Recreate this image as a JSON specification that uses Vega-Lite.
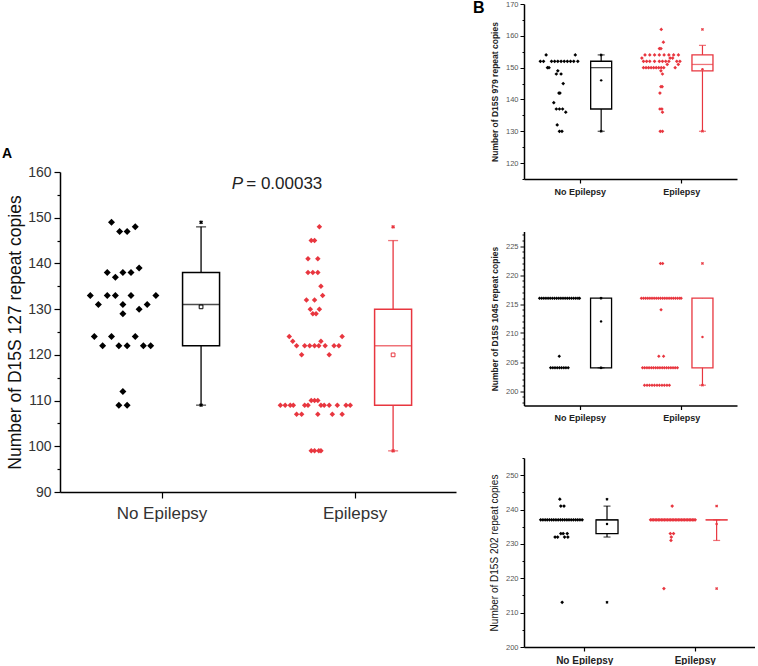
{
"$schema": "https://vega.github.io/schema/vega-lite/v6.json",
"padding": {"left": 2, "top": 0, "right": 0, "bottom": 0},
"background": "white",
"config": {"view": {"stroke": null}, "font": "Liberation Sans", "axis": {"grid": false, "domainColor": "#000", "tickColor": "#000", "labelFont": "Liberation Sans", "titleFont": "Liberation Sans", "labelOverlap": false}},
"datasets": {
"dA": [
{"g":"N","x":0.741,"v":149},{"g":"N","x":0.783,"v":147},{"g":"N","x":0.822,"v":147},{"g":"N","x":0.864,"v":148},
{"g":"N","x":0.719,"v":138},{"g":"N","x":0.800,"v":138},{"g":"N","x":0.842,"v":138},{"g":"N","x":0.761,"v":137},{"g":"N","x":0.884,"v":139},
{"g":"N","x":0.631,"v":133},{"g":"N","x":0.719,"v":133},{"g":"N","x":0.761,"v":133},{"g":"N","x":0.842,"v":133},{"g":"N","x":0.971,"v":133},
{"g":"N","x":0.673,"v":131},{"g":"N","x":0.800,"v":131},{"g":"N","x":0.926,"v":131},
{"g":"N","x":0.800,"v":129},{"g":"N","x":0.884,"v":130},
{"g":"N","x":0.652,"v":124},{"g":"N","x":0.741,"v":124},{"g":"N","x":0.864,"v":124},
{"g":"N","x":0.695,"v":122},{"g":"N","x":0.779,"v":122},{"g":"N","x":0.822,"v":122},{"g":"N","x":0.906,"v":122},{"g":"N","x":0.944,"v":122},
{"g":"N","x":0.800,"v":112},{"g":"N","x":0.779,"v":109},{"g":"N","x":0.822,"v":109},
{"g":"E","x":1.818,"v":148},{"g":"E","x":1.776,"v":145},{"g":"E","x":1.793,"v":145},{"g":"E","x":1.759,"v":141},{"g":"E","x":1.810,"v":141},
{"g":"E","x":1.759,"v":138},{"g":"E","x":1.784,"v":138},{"g":"E","x":1.810,"v":138},{"g":"E","x":1.826,"v":135},
{"g":"E","x":1.751,"v":132},{"g":"E","x":1.793,"v":132},{"g":"E","x":1.835,"v":133},
{"g":"E","x":1.771,"v":130},{"g":"E","x":1.818,"v":130},{"g":"E","x":1.784,"v":129},{"g":"E","x":1.801,"v":129},
{"g":"E","x":1.662,"v":124},{"g":"E","x":1.936,"v":124},{"g":"E","x":1.680,"v":123},{"g":"E","x":1.826,"v":123},
{"g":"E","x":1.700,"v":122},{"g":"E","x":1.742,"v":122},{"g":"E","x":1.768,"v":122},{"g":"E","x":1.793,"v":122},{"g":"E","x":1.815,"v":122},{"g":"E","x":1.848,"v":122},{"g":"E","x":1.894,"v":122},{"g":"E","x":1.919,"v":122},
{"g":"E","x":1.726,"v":120},{"g":"E","x":1.869,"v":120},
{"g":"E","x":1.616,"v":109},{"g":"E","x":1.641,"v":109},{"g":"E","x":1.667,"v":109},{"g":"E","x":1.683,"v":109},{"g":"E","x":1.742,"v":109},{"g":"E","x":1.759,"v":109},{"g":"E","x":1.826,"v":109},{"g":"E","x":1.843,"v":109},{"g":"E","x":1.869,"v":109},{"g":"E","x":1.911,"v":109},{"g":"E","x":1.956,"v":109},{"g":"E","x":1.978,"v":109},
{"g":"E","x":1.776,"v":110},{"g":"E","x":1.793,"v":110},{"g":"E","x":1.810,"v":110},
{"g":"E","x":1.700,"v":107},{"g":"E","x":1.726,"v":107},{"g":"E","x":1.810,"v":107},{"g":"E","x":1.885,"v":107},{"g":"E","x":1.936,"v":107},
{"g":"E","x":1.776,"v":99},{"g":"E","x":1.793,"v":99},{"g":"E","x":1.815,"v":99},{"g":"E","x":1.826,"v":99}
],
"bA": [
{"g":"N","x":1.205,"q1":122,"q3":138,"med":131,"mean":130.5,"lo":109,"hi":148,"mn":109,"mx":149},
{"g":"E","x":2.2,"q1":109,"q3":130,"med":122,"mean":120,"lo":99,"hi":145,"mn":99,"mx":148}
],
"dB1": [
{"g":"N","x":0.669,"v":154},{"g":"N","x":0.956,"v":154},{"g":"N","x":0.612,"v":152},{"g":"N","x":0.643,"v":152},{"g":"N","x":0.722,"v":152},{"g":"N","x":0.753,"v":152},{"g":"N","x":0.784,"v":152},{"g":"N","x":0.816,"v":152},{"g":"N","x":0.847,"v":152},{"g":"N","x":0.878,"v":152},{"g":"N","x":0.909,"v":152},{"g":"N","x":0.941,"v":152},{"g":"N","x":0.981,"v":152},
{"g":"N","x":0.682,"v":150},{"g":"N","x":0.697,"v":150},{"g":"N","x":0.784,"v":149},{"g":"N","x":0.769,"v":148},{"g":"N","x":0.816,"v":148},{"g":"N","x":0.837,"v":145},{"g":"N","x":0.795,"v":142},{"g":"N","x":0.805,"v":142},{"g":"N","x":0.744,"v":139},{"g":"N","x":0.769,"v":137},{"g":"N","x":0.800,"v":137},{"g":"N","x":0.831,"v":137},{"g":"N","x":0.862,"v":136},{"g":"N","x":0.778,"v":132},{"g":"N","x":0.800,"v":130},{"g":"N","x":0.825,"v":130},
{"g":"E","x":1.803,"v":162},{"g":"E","x":1.824,"v":158},{"g":"E","x":1.785,"v":156},{"g":"E","x":1.800,"v":156},
{"g":"E","x":1.643,"v":154},{"g":"E","x":1.690,"v":154},{"g":"E","x":1.737,"v":154},{"g":"E","x":1.784,"v":154},{"g":"E","x":1.831,"v":154},{"g":"E","x":1.878,"v":154},{"g":"E","x":1.925,"v":154},{"g":"E","x":1.972,"v":154},
{"g":"E","x":1.612,"v":153},{"g":"E","x":1.890,"v":153},{"g":"E","x":1.915,"v":153},
{"g":"E","x":1.628,"v":152},{"g":"E","x":1.659,"v":152},{"g":"E","x":1.690,"v":152},{"g":"E","x":1.737,"v":152},{"g":"E","x":1.784,"v":152},{"g":"E","x":1.815,"v":152},{"g":"E","x":1.847,"v":152},{"g":"E","x":1.878,"v":152},{"g":"E","x":1.956,"v":152},{"g":"E","x":1.987,"v":152},
{"g":"E","x":1.862,"v":151},{"g":"E","x":1.971,"v":151},
{"g":"E","x":1.628,"v":150},{"g":"E","x":1.653,"v":150},{"g":"E","x":1.678,"v":150},{"g":"E","x":1.703,"v":150},{"g":"E","x":1.728,"v":150},{"g":"E","x":1.753,"v":150},{"g":"E","x":1.778,"v":150},{"g":"E","x":1.803,"v":150},{"g":"E","x":1.828,"v":150},{"g":"E","x":1.940,"v":150},
{"g":"E","x":1.800,"v":149},{"g":"E","x":1.815,"v":148},{"g":"E","x":1.800,"v":144},{"g":"E","x":1.812,"v":144},{"g":"E","x":1.790,"v":142},{"g":"E","x":1.790,"v":137},{"g":"E","x":1.809,"v":137},{"g":"E","x":1.815,"v":136},{"g":"E","x":1.793,"v":130},{"g":"E","x":1.815,"v":130}
],
"bB1": [
{"g":"N","x":1.211,"q1":137,"q3":152,"med":150,"mean":146,"lo":130,"hi":154,"mn":130,"mx":154},
{"g":"E","x":2.209,"q1":149,"q3":154,"med":151,"mean":149.5,"lo":130,"hi":157,"mn":130,"mx":162}
],
"dB2": [
{"g":"N","x":0.604,"v":216},{"g":"N","x":0.625,"v":216},{"g":"N","x":0.646,"v":216},{"g":"N","x":0.667,"v":216},{"g":"N","x":0.688,"v":216},{"g":"N","x":0.709,"v":216},{"g":"N","x":0.730,"v":216},{"g":"N","x":0.751,"v":216},{"g":"N","x":0.772,"v":216},{"g":"N","x":0.793,"v":216},{"g":"N","x":0.814,"v":216},{"g":"N","x":0.835,"v":216},{"g":"N","x":0.856,"v":216},{"g":"N","x":0.877,"v":216},{"g":"N","x":0.898,"v":216},{"g":"N","x":0.919,"v":216},{"g":"N","x":0.940,"v":216},{"g":"N","x":0.961,"v":216},{"g":"N","x":0.982,"v":216},{"g":"N","x":0.998,"v":216},
{"g":"N","x":0.798,"v":206},
{"g":"N","x":0.713,"v":204},{"g":"N","x":0.735,"v":204},{"g":"N","x":0.756,"v":204},{"g":"N","x":0.778,"v":204},{"g":"N","x":0.800,"v":204},{"g":"N","x":0.821,"v":204},{"g":"N","x":0.843,"v":204},{"g":"N","x":0.864,"v":204},{"g":"N","x":0.886,"v":204},
{"g":"E","x":1.795,"v":222},{"g":"E","x":1.817,"v":222},
{"g":"E","x":1.607,"v":216},{"g":"E","x":1.628,"v":216},{"g":"E","x":1.649,"v":216},{"g":"E","x":1.670,"v":216},{"g":"E","x":1.691,"v":216},{"g":"E","x":1.712,"v":216},{"g":"E","x":1.733,"v":216},{"g":"E","x":1.754,"v":216},{"g":"E","x":1.775,"v":216},{"g":"E","x":1.796,"v":216},{"g":"E","x":1.817,"v":216},{"g":"E","x":1.838,"v":216},{"g":"E","x":1.859,"v":216},{"g":"E","x":1.880,"v":216},{"g":"E","x":1.901,"v":216},{"g":"E","x":1.922,"v":216},{"g":"E","x":1.943,"v":216},{"g":"E","x":1.964,"v":216},{"g":"E","x":1.985,"v":216},{"g":"E","x":1.999,"v":216},
{"g":"E","x":1.801,"v":214},{"g":"E","x":1.779,"v":206},{"g":"E","x":1.826,"v":206},
{"g":"E","x":1.619,"v":204},{"g":"E","x":1.640,"v":204},{"g":"E","x":1.662,"v":204},{"g":"E","x":1.683,"v":204},{"g":"E","x":1.705,"v":204},{"g":"E","x":1.726,"v":204},{"g":"E","x":1.748,"v":204},{"g":"E","x":1.769,"v":204},{"g":"E","x":1.790,"v":204},{"g":"E","x":1.812,"v":204},{"g":"E","x":1.833,"v":204},{"g":"E","x":1.855,"v":204},{"g":"E","x":1.876,"v":204},{"g":"E","x":1.898,"v":204},{"g":"E","x":1.919,"v":204},{"g":"E","x":1.940,"v":204},{"g":"E","x":1.962,"v":204},
{"g":"E","x":1.638,"v":201},{"g":"E","x":1.663,"v":201},{"g":"E","x":1.687,"v":201},{"g":"E","x":1.712,"v":201},{"g":"E","x":1.736,"v":201},{"g":"E","x":1.761,"v":201},{"g":"E","x":1.785,"v":201},{"g":"E","x":1.810,"v":201},{"g":"E","x":1.834,"v":201},{"g":"E","x":1.859,"v":201},{"g":"E","x":1.883,"v":201}
],
"bB2": [
{"g":"N","x":1.210,"q1":204,"q3":216,"med":216,"mean":212,"lo":204,"hi":216,"mn":204,"mx":216},
{"g":"E","x":2.209,"q1":204,"q3":216,"med":216,"mean":209.3,"lo":201,"hi":216,"mn":201,"mx":222}
],
"dB3": [
{"g":"N","x":0.779,"v":243},{"g":"N","x":0.788,"v":241},{"g":"N","x":0.817,"v":241},
{"g":"N","x":0.606,"v":237},{"g":"N","x":0.626,"v":237},{"g":"N","x":0.646,"v":237},{"g":"N","x":0.665,"v":237},{"g":"N","x":0.685,"v":237},{"g":"N","x":0.705,"v":237},{"g":"N","x":0.724,"v":237},{"g":"N","x":0.744,"v":237},{"g":"N","x":0.764,"v":237},{"g":"N","x":0.784,"v":237},{"g":"N","x":0.803,"v":237},{"g":"N","x":0.823,"v":237},{"g":"N","x":0.843,"v":237},{"g":"N","x":0.862,"v":237},{"g":"N","x":0.882,"v":237},{"g":"N","x":0.902,"v":237},{"g":"N","x":0.922,"v":237},{"g":"N","x":0.941,"v":237},{"g":"N","x":0.961,"v":237},{"g":"N","x":0.981,"v":237},
{"g":"N","x":0.788,"v":233},{"g":"N","x":0.809,"v":233},{"g":"N","x":0.846,"v":233},
{"g":"N","x":0.736,"v":232},{"g":"N","x":0.759,"v":232},{"g":"N","x":0.822,"v":232},{"g":"N","x":0.852,"v":232},
{"g":"N","x":0.800,"v":213},
{"g":"E","x":1.796,"v":241},
{"g":"E","x":1.600,"v":237},{"g":"E","x":1.614,"v":237},{"g":"E","x":1.628,"v":237},{"g":"E","x":1.642,"v":237},{"g":"E","x":1.656,"v":237},{"g":"E","x":1.670,"v":237},{"g":"E","x":1.684,"v":237},{"g":"E","x":1.698,"v":237},{"g":"E","x":1.712,"v":237},{"g":"E","x":1.726,"v":237},{"g":"E","x":1.740,"v":237},{"g":"E","x":1.754,"v":237},{"g":"E","x":1.768,"v":237},{"g":"E","x":1.782,"v":237},{"g":"E","x":1.796,"v":237},{"g":"E","x":1.810,"v":237},{"g":"E","x":1.824,"v":237},{"g":"E","x":1.838,"v":237},{"g":"E","x":1.852,"v":237},{"g":"E","x":1.866,"v":237},{"g":"E","x":1.880,"v":237},{"g":"E","x":1.894,"v":237},{"g":"E","x":1.908,"v":237},{"g":"E","x":1.922,"v":237},{"g":"E","x":1.936,"v":237},{"g":"E","x":1.950,"v":237},{"g":"E","x":1.964,"v":237},{"g":"E","x":1.978,"v":237},{"g":"E","x":1.992,"v":237},{"g":"E","x":2.004,"v":237},
{"g":"E","x":1.779,"v":233},{"g":"E","x":1.808,"v":233},{"g":"E","x":1.788,"v":232},{"g":"E","x":1.785,"v":231},{"g":"E","x":1.721,"v":217}
],
"bB3": [
{"g":"N","x":1.206,"q1":233,"q3":237,"med":237,"mean":235.8,"lo":232,"hi":241,"mn":213,"mx":243},
{"g":"E","x":2.198,"q1":237,"q3":237,"med":237,"mean":235.8,"lo":231,"hi":237,"mn":217,"mx":241}
]
},
"spacing": 17,
"resolve": {"scale": {"x": "independent", "y": "independent"}},
"hconcat": [
{
"bounds": "flush",
"spacing": 18,
"resolve": {"scale": {"x": "independent", "y": "independent"}},
"vconcat": [
{"width": 10, "height": 150, "data": {"values": []}, "mark": "point"},
{
"width": 396, "height": 320,
"title": {"text": "A", "anchor": "start", "frame": "group", "dx": -58, "offset": 4, "fontSize": 14, "fontWeight": "bold", "font": "Liberation Sans", "color": "#000"},
"layer": [
{
"encoding": {"x": {"field": "x", "type": "quantitative", "scale": {"domain": [0.5, 2.5], "nice": false, "zero": false}, "axis": {"values": [1, 2], "tickCount": 100, "labelExpr": "datum.value == 1 ? 'No Epilepsy' : 'Epilepsy'", "title": null, "labelFontSize": 17, "labelColor": "#333", "tickSize": 6, "labelPadding": 7, "domainWidth": 1.5, "tickWidth": 1.2, "labelOverlap": false}}},
"layer": [
{"data": {"name": "dA"}, "mark": {"type": "point", "shape": "diamond", "filled": true, "opacity": 1},
 "encoding": {"y": {"field": "v", "type": "quantitative", "scale": {"domain": [90, 160], "nice": false, "zero": false},
   "axis": {"values": [90,95,100,105,110,115,120,125,130,135,140,145,150,155,160], "tickCount": 100, "format": "d", "labelExpr": "datum.value % 10 === 0 ? datum.label : ''", "labelOverlap": false, "title": "Number of D15S 127 repeat copies", "titleFontSize": 17.5, "titleFontWeight": "normal", "titleColor": "#111", "labelFontSize": 14, "labelColor": "#333", "tickSize": {"condition": {"test": "datum.value % 10 === 0", "value": 6}, "value": 3}, "labelPadding": 3, "titlePadding": 3, "domainWidth": 1.5, "tickWidth": 1.2}},
  "color": {"field": "g", "type": "nominal", "scale": {"domain": ["N", "E"], "range": ["#000000", "#e8363f"]}, "legend": null},
  "size": {"field": "g", "type": "nominal", "scale": {"domain": ["N", "E"], "range": [49, 30]}, "legend": null}}},
{"data": {"name": "bA"}, "mark": {"type": "rule", "strokeWidth": 1.3},
 "encoding": {"y": {"field": "lo", "type": "quantitative", "scale": {"domain": [90, 160], "nice": false, "zero": false}}, "y2": {"field": "hi"}, "color": {"field": "g", "type": "nominal", "scale": {"domain": ["N", "E"], "range": ["#000000", "#e8363f"]}, "legend": null}}},
{"data": {"name": "bA"}, "mark": {"type": "bar", "size": 37, "fill": "white", "strokeWidth": 1.5},
 "encoding": {"y": {"field": "q1", "type": "quantitative", "scale": {"domain": [90, 160], "nice": false, "zero": false}}, "y2": {"field": "q3"}, "stroke": {"field": "g", "type": "nominal", "scale": {"domain": ["N", "E"], "range": ["#000000", "#e8363f"]}, "legend": null}}},
{"data": {"name": "bA"}, "mark": {"type": "tick", "orient": "horizontal", "size": 37, "thickness": 1.5},
 "encoding": {"y": {"field": "med", "type": "quantitative", "scale": {"domain": [90, 160], "nice": false, "zero": false}}, "color": {"field": "g", "type": "nominal", "scale": {"domain": ["N", "E"], "range": ["#000000", "#e8363f"]}, "legend": null}}},
{"data": {"name": "bA"}, "mark": {"type": "tick", "orient": "horizontal", "size": 10, "thickness": 1.3},
 "encoding": {"y": {"field": "lo", "type": "quantitative", "scale": {"domain": [90, 160], "nice": false, "zero": false}}, "color": {"field": "g", "type": "nominal", "scale": {"domain": ["N", "E"], "range": ["#000000", "#e8363f"]}, "legend": null}}},
{"data": {"name": "bA"}, "mark": {"type": "tick", "orient": "horizontal", "size": 10, "thickness": 1.3},
 "encoding": {"y": {"field": "hi", "type": "quantitative", "scale": {"domain": [90, 160], "nice": false, "zero": false}}, "color": {"field": "g", "type": "nominal", "scale": {"domain": ["N", "E"], "range": ["#000000", "#e8363f"]}, "legend": null}}},
{"data": {"name": "bA"}, "mark": {"type": "point", "shape": "square", "size": 14, "filled": false, "strokeWidth": 1, "opacity": 1},
 "encoding": {"y": {"field": "mean", "type": "quantitative", "scale": {"domain": [90, 160], "nice": false, "zero": false}}, "color": {"field": "g", "type": "nominal", "scale": {"domain": ["N", "E"], "range": ["#000000", "#e8363f"]}, "legend": null}}},
{"data": {"name": "bA"}, "mark": {"type": "point", "shape": "cross", "angle": 45, "size": 16, "filled": true, "opacity": 1},
 "encoding": {"y": {"field": "mn", "type": "quantitative", "scale": {"domain": [90, 160], "nice": false, "zero": false}}, "color": {"field": "g", "type": "nominal", "scale": {"domain": ["N", "E"], "range": ["#000000", "#e8363f"]}, "legend": null}}},
{"data": {"name": "bA"}, "mark": {"type": "point", "shape": "cross", "angle": 45, "size": 16, "filled": true, "opacity": 1},
 "encoding": {"y": {"field": "mx", "type": "quantitative", "scale": {"domain": [90, 160], "nice": false, "zero": false}}, "color": {"field": "g", "type": "nominal", "scale": {"domain": ["N", "E"], "range": ["#000000", "#e8363f"]}, "legend": null}}}
]
},
{"data": {"values": [{"t": "P"}]}, "mark": {"type": "text", "fontStyle": "italic", "fontSize": 17, "align": "left", "baseline": "alphabetic", "font": "Liberation Sans", "color": "#222"},
 "encoding": {"text": {"field": "t"}, "x": {"datum": 1.364, "type": "quantitative", "scale": {"domain": [0.5, 2.5], "nice": false, "zero": false}}, "y": {"datum": 156.3, "type": "quantitative", "scale": {"domain": [90, 160], "nice": false, "zero": false}}}},
{"data": {"values": [{"t": "= 0.00033"}]}, "mark": {"type": "text", "fontSize": 17, "align": "left", "baseline": "alphabetic", "font": "Liberation Sans", "color": "#222"},
 "encoding": {"text": {"field": "t"}, "x": {"datum": 1.439, "type": "quantitative", "scale": {"domain": [0.5, 2.5], "nice": false, "zero": false}}, "y": {"datum": 156.3, "type": "quantitative", "scale": {"domain": [90, 160], "nice": false, "zero": false}}}}
]
}
]
},
{
"bounds": "flush",
"spacing": 52.5,
"resolve": {"scale": {"x": "independent", "y": "independent"}},
"vconcat": [
{
"width": 213, "height": 175,
"title": {"text": "B", "anchor": "start", "frame": "group", "dx": -51, "dy": 16, "offset": 0, "fontSize": 16, "fontWeight": "bold", "font": "Liberation Sans", "color": "#000"},
"encoding": {"x": {"field": "x", "type": "quantitative", "scale": {"domain": [0.5, 2.5], "nice": false, "zero": false}, "axis": {"values": [1, 2], "tickCount": 100, "labelExpr": "datum.value == 1 ? 'No Epilepsy' : 'Epilepsy'", "title": null, "labelFontSize": 9, "labelFontWeight": "bold", "labelColor": "#222", "tickSize": 4, "labelPadding": 4, "domainWidth": 1.5, "tickWidth": 1.2, "labelOverlap": false}}},
"layer": [
{"data": {"name": "dB1"}, "mark": {"type": "point", "shape": "diamond", "filled": true, "opacity": 1, "size": 14},
 "encoding": {"y": {"field": "v", "type": "quantitative", "scale": {"domain": [115, 170], "nice": false, "zero": false},
   "axis": {"values": [115,120,125,130,135,140,145,150,155,160,165,170], "tickCount": 100, "format": "d", "labelExpr": "datum.value % 10 === 0 ? datum.label : ''", "labelOverlap": false, "title": "Number of D15S 979 repeat copies", "titleFontSize": 8.5, "titleFontWeight": "bold", "titleColor": "#222", "labelFontSize": 7.5, "labelColor": "#555", "tickSize": {"condition": {"test": "datum.value % 10 === 0", "value": 4}, "value": 2}, "labelPadding": 2, "titlePadding": 6, "domainWidth": 1.5, "tickWidth": 1}},
  "color": {"field": "g", "type": "nominal", "scale": {"domain": ["N", "E"], "range": ["#000000", "#e8363f"]}, "legend": null}}},
{"data": {"name": "bB1"}, "mark": {"type": "rule", "strokeWidth": 1.2},
 "encoding": {"y": {"field": "lo", "type": "quantitative", "scale": {"domain": [115, 170], "nice": false, "zero": false}}, "y2": {"field": "hi"}, "color": {"field": "g", "type": "nominal", "scale": {"domain": ["N", "E"], "range": ["#000000", "#e8363f"]}, "legend": null}}},
{"data": {"name": "bB1"}, "mark": {"type": "bar", "size": 21, "fill": "white", "strokeWidth": 1.3},
 "encoding": {"y": {"field": "q1", "type": "quantitative", "scale": {"domain": [115, 170], "nice": false, "zero": false}}, "y2": {"field": "q3"}, "stroke": {"field": "g", "type": "nominal", "scale": {"domain": ["N", "E"], "range": ["#000000", "#e8363f"]}, "legend": null}}},
{"data": {"name": "bB1"}, "mark": {"type": "tick", "orient": "horizontal", "size": 21, "thickness": 1.3},
 "encoding": {"y": {"field": "med", "type": "quantitative", "scale": {"domain": [115, 170], "nice": false, "zero": false}}, "color": {"field": "g", "type": "nominal", "scale": {"domain": ["N", "E"], "range": ["#000000", "#e8363f"]}, "legend": null}}},
{"data": {"name": "bB1"}, "mark": {"type": "tick", "orient": "horizontal", "size": 7, "thickness": 1.2},
 "encoding": {"y": {"field": "lo", "type": "quantitative", "scale": {"domain": [115, 170], "nice": false, "zero": false}}, "color": {"field": "g", "type": "nominal", "scale": {"domain": ["N", "E"], "range": ["#000000", "#e8363f"]}, "legend": null}}},
{"data": {"name": "bB1"}, "mark": {"type": "tick", "orient": "horizontal", "size": 7, "thickness": 1.2},
 "encoding": {"y": {"field": "hi", "type": "quantitative", "scale": {"domain": [115, 170], "nice": false, "zero": false}}, "color": {"field": "g", "type": "nominal", "scale": {"domain": ["N", "E"], "range": ["#000000", "#e8363f"]}, "legend": null}}},
{"data": {"name": "bB1"}, "mark": {"type": "point", "shape": "circle", "size": 6, "filled": true, "opacity": 1},
 "encoding": {"y": {"field": "mean", "type": "quantitative", "scale": {"domain": [115, 170], "nice": false, "zero": false}}, "color": {"field": "g", "type": "nominal", "scale": {"domain": ["N", "E"], "range": ["#000000", "#e8363f"]}, "legend": null}}},
{"data": {"name": "bB1"}, "mark": {"type": "point", "shape": "cross", "angle": 45, "size": 9, "filled": true, "opacity": 1},
 "encoding": {"y": {"field": "mn", "type": "quantitative", "scale": {"domain": [115, 170], "nice": false, "zero": false}}, "color": {"field": "g", "type": "nominal", "scale": {"domain": ["N", "E"], "range": ["#000000", "#e8363f"]}, "legend": null}}},
{"data": {"name": "bB1"}, "mark": {"type": "point", "shape": "cross", "angle": 45, "size": 9, "filled": true, "opacity": 1},
 "encoding": {"y": {"field": "mx", "type": "quantitative", "scale": {"domain": [115, 170], "nice": false, "zero": false}}, "color": {"field": "g", "type": "nominal", "scale": {"domain": ["N", "E"], "range": ["#000000", "#e8363f"]}, "legend": null}}}
]
},
{
"width": 213, "height": 174,
"encoding": {"x": {"field": "x", "type": "quantitative", "scale": {"domain": [0.5, 2.5], "nice": false, "zero": false}, "axis": {"values": [1, 2], "tickCount": 100, "labelExpr": "datum.value == 1 ? 'No Epilepsy' : 'Epilepsy'", "title": null, "labelFontSize": 9, "labelFontWeight": "bold", "labelColor": "#222", "tickSize": 4, "labelPadding": 4, "domainWidth": 1.5, "tickWidth": 1.2, "labelOverlap": false}}},
"layer": [
{"data": {"name": "dB2"}, "mark": {"type": "point", "shape": "diamond", "filled": true, "opacity": 1, "size": 12},
 "encoding": {"y": {"field": "v", "type": "quantitative", "scale": {"domain": [197.5, 227.5], "nice": false, "zero": false},
   "axis": {"values": [198,199,200,201,202,203,204,205,206,207,208,209,210,211,212,213,214,215,216,217,218,219,220,221,222,223,224,225,226,227], "tickCount": 100, "format": "d", "labelExpr": "datum.value % 5 === 0 ? datum.label : ''", "labelOverlap": false, "title": "Number of D15S 1045 repeat copies", "titleFontSize": 8.5, "titleFontWeight": "bold", "titleColor": "#222", "labelFontSize": 7.5, "labelColor": "#555", "tickSize": {"condition": {"test": "datum.value % 5 === 0", "value": 4}, "value": 2}, "labelPadding": 2, "titlePadding": 6, "domainWidth": 1.5, "tickWidth": 1}},
  "color": {"field": "g", "type": "nominal", "scale": {"domain": ["N", "E"], "range": ["#000000", "#e8363f"]}, "legend": null}}},
{"data": {"name": "bB2"}, "mark": {"type": "rule", "strokeWidth": 1.2},
 "encoding": {"y": {"field": "lo", "type": "quantitative", "scale": {"domain": [197.5, 227.5], "nice": false, "zero": false}}, "y2": {"field": "hi"}, "color": {"field": "g", "type": "nominal", "scale": {"domain": ["N", "E"], "range": ["#000000", "#e8363f"]}, "legend": null}}},
{"data": {"name": "bB2"}, "mark": {"type": "bar", "size": 21, "fill": "white", "strokeWidth": 1.3},
 "encoding": {"y": {"field": "q1", "type": "quantitative", "scale": {"domain": [197.5, 227.5], "nice": false, "zero": false}}, "y2": {"field": "q3"}, "stroke": {"field": "g", "type": "nominal", "scale": {"domain": ["N", "E"], "range": ["#000000", "#e8363f"]}, "legend": null}}},
{"data": {"name": "bB2"}, "mark": {"type": "tick", "orient": "horizontal", "size": 7, "thickness": 1.2},
 "encoding": {"y": {"field": "lo", "type": "quantitative", "scale": {"domain": [197.5, 227.5], "nice": false, "zero": false}}, "color": {"field": "g", "type": "nominal", "scale": {"domain": ["N", "E"], "range": ["#000000", "#e8363f"]}, "legend": null}}},
{"data": {"name": "bB2"}, "mark": {"type": "point", "shape": "circle", "size": 6, "filled": true, "opacity": 1},
 "encoding": {"y": {"field": "mean", "type": "quantitative", "scale": {"domain": [197.5, 227.5], "nice": false, "zero": false}}, "color": {"field": "g", "type": "nominal", "scale": {"domain": ["N", "E"], "range": ["#000000", "#e8363f"]}, "legend": null}}},
{"data": {"name": "bB2"}, "mark": {"type": "point", "shape": "cross", "angle": 45, "size": 9, "filled": true, "opacity": 1},
 "encoding": {"y": {"field": "mn", "type": "quantitative", "scale": {"domain": [197.5, 227.5], "nice": false, "zero": false}}, "color": {"field": "g", "type": "nominal", "scale": {"domain": ["N", "E"], "range": ["#000000", "#e8363f"]}, "legend": null}}},
{"data": {"name": "bB2"}, "mark": {"type": "point", "shape": "cross", "angle": 45, "size": 9, "filled": true, "opacity": 1},
 "encoding": {"y": {"field": "mx", "type": "quantitative", "scale": {"domain": [197.5, 227.5], "nice": false, "zero": false}}, "color": {"field": "g", "type": "nominal", "scale": {"domain": ["N", "E"], "range": ["#000000", "#e8363f"]}, "legend": null}}}
]
},
{
"width": 231, "height": 189,
"encoding": {"x": {"field": "x", "type": "quantitative", "scale": {"domain": [0.5, 2.5], "nice": false, "zero": false}, "axis": {"values": [1, 2], "tickCount": 100, "labelExpr": "datum.value == 1 ? 'No Epilepsy' : 'Epilepsy'", "title": null, "labelFontSize": 10, "labelFontWeight": "bold", "labelColor": "#222", "tickSize": 4, "labelPadding": 4, "domainWidth": 1.5, "tickWidth": 1.2, "labelOverlap": false}}},
"layer": [
{"data": {"name": "dB3"}, "mark": {"type": "point", "shape": "diamond", "filled": true, "opacity": 1, "size": 14},
 "encoding": {"y": {"field": "v", "type": "quantitative", "scale": {"domain": [200, 255], "nice": false, "zero": false},
   "axis": {"values": [200,205,210,215,220,225,230,235,240,245,250,255], "tickCount": 100, "format": "d", "labelExpr": "datum.value % 10 === 0 ? datum.label : ''", "labelOverlap": false, "title": "Number of D15S 202 repeat copies", "titleFontSize": 10, "titleFontWeight": "normal", "titleColor": "#111", "labelFontSize": 7.5, "labelColor": "#555", "tickSize": {"condition": {"test": "datum.value % 10 === 0", "value": 4}, "value": 2}, "labelPadding": 2, "titlePadding": 6, "domainWidth": 1.5, "tickWidth": 1}},
  "color": {"field": "g", "type": "nominal", "scale": {"domain": ["N", "E"], "range": ["#000000", "#e8363f"]}, "legend": null}}},
{"data": {"name": "bB3"}, "mark": {"type": "rule", "strokeWidth": 1.2},
 "encoding": {"y": {"field": "lo", "type": "quantitative", "scale": {"domain": [200, 255], "nice": false, "zero": false}}, "y2": {"field": "hi"}, "color": {"field": "g", "type": "nominal", "scale": {"domain": ["N", "E"], "range": ["#000000", "#e8363f"]}, "legend": null}}},
{"data": {"name": "bB3"}, "mark": {"type": "bar", "size": 22, "fill": "white", "strokeWidth": 1.3},
 "encoding": {"y": {"field": "q1", "type": "quantitative", "scale": {"domain": [200, 255], "nice": false, "zero": false}}, "y2": {"field": "q3"}, "stroke": {"field": "g", "type": "nominal", "scale": {"domain": ["N", "E"], "range": ["#000000", "#e8363f"]}, "legend": null}}},
{"data": {"name": "bB3"}, "mark": {"type": "tick", "orient": "horizontal", "size": 22, "thickness": 1.3},
 "encoding": {"y": {"field": "med", "type": "quantitative", "scale": {"domain": [200, 255], "nice": false, "zero": false}}, "color": {"field": "g", "type": "nominal", "scale": {"domain": ["N", "E"], "range": ["#000000", "#e8363f"]}, "legend": null}}},
{"data": {"name": "bB3"}, "mark": {"type": "tick", "orient": "horizontal", "size": 7, "thickness": 1.2},
 "encoding": {"y": {"field": "lo", "type": "quantitative", "scale": {"domain": [200, 255], "nice": false, "zero": false}}, "color": {"field": "g", "type": "nominal", "scale": {"domain": ["N", "E"], "range": ["#000000", "#e8363f"]}, "legend": null}}},
{"data": {"name": "bB3"}, "mark": {"type": "tick", "orient": "horizontal", "size": 7, "thickness": 1.2},
 "encoding": {"y": {"field": "hi", "type": "quantitative", "scale": {"domain": [200, 255], "nice": false, "zero": false}}, "color": {"field": "g", "type": "nominal", "scale": {"domain": ["N", "E"], "range": ["#000000", "#e8363f"]}, "legend": null}}},
{"data": {"name": "bB3"}, "mark": {"type": "point", "shape": "circle", "size": 6, "filled": true, "opacity": 1},
 "encoding": {"y": {"field": "mean", "type": "quantitative", "scale": {"domain": [200, 255], "nice": false, "zero": false}}, "color": {"field": "g", "type": "nominal", "scale": {"domain": ["N", "E"], "range": ["#000000", "#e8363f"]}, "legend": null}}},
{"data": {"name": "bB3"}, "mark": {"type": "point", "shape": "cross", "angle": 45, "size": 9, "filled": true, "opacity": 1},
 "encoding": {"y": {"field": "mn", "type": "quantitative", "scale": {"domain": [200, 255], "nice": false, "zero": false}}, "color": {"field": "g", "type": "nominal", "scale": {"domain": ["N", "E"], "range": ["#000000", "#e8363f"]}, "legend": null}}},
{"data": {"name": "bB3"}, "mark": {"type": "point", "shape": "cross", "angle": 45, "size": 9, "filled": true, "opacity": 1},
 "encoding": {"y": {"field": "mx", "type": "quantitative", "scale": {"domain": [200, 255], "nice": false, "zero": false}}, "color": {"field": "g", "type": "nominal", "scale": {"domain": ["N", "E"], "range": ["#000000", "#e8363f"]}, "legend": null}}}
]
}
]
}
]
}
